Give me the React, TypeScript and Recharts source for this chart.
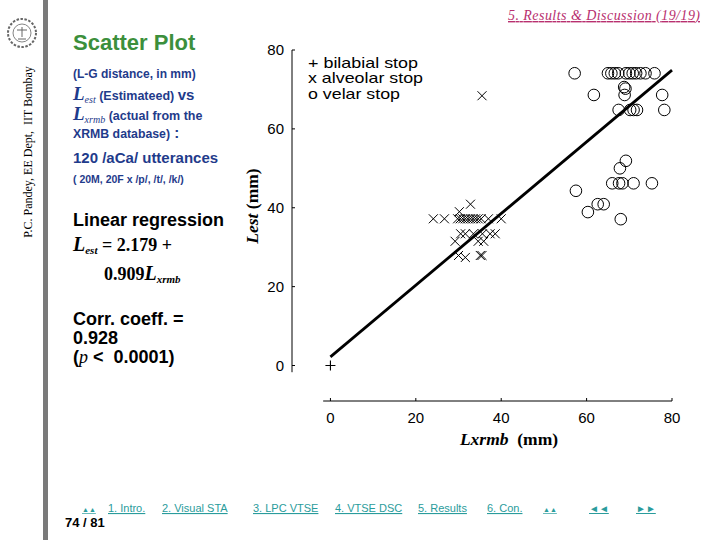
import React from 'react';
import { ScatterChart, Scatter, XAxis, YAxis, ReferenceLine } from 'recharts';

// ---- data ----
const bilabialX = [0];
const bilabialY = [0];

const alveolarX = [
  35.5, 32.8, 30.2,
  24.1, 26.7, 29.8, 30.4, 31.0, 31.6, 32.2, 32.8, 33.4, 34.0, 34.6, 35.3, 37.0, 40.0,
  30.5, 31.6, 33.5, 35.6, 37.4, 38.6,
  29.2, 34.6, 35.9,
  30.0, 31.6, 35.1, 35.5,
];
const alveolarY = [
  68.4, 40.9, 39.0,
  37.2, 37.2, 37.2, 37.2, 37.2, 37.2, 37.2, 37.2, 37.2, 37.2, 37.2, 37.2, 37.2, 37.2,
  33.4, 33.4, 33.4, 33.4, 33.4, 33.4,
  31.5, 31.5, 31.5,
  27.9, 27.4, 27.9, 27.9,
];

const velarX = [
  57.2, 65.0, 65.8, 66.6, 67.4, 69.2, 70.0, 70.8, 71.6, 72.6, 73.8, 75.9,
  68.8, 69.1,
  61.7, 68.9, 77.7,
  67.5, 70.2, 71.0, 71.8, 78.2,
  69.2, 67.8,
  66.0, 67.6, 68.4, 71.0, 75.3,
  57.5,
  60.3, 62.6, 64.0,
  68.0,
];
const velarY = [
  74.1, 74.1, 74.1, 74.1, 74.1, 74.1, 74.1, 74.1, 74.1, 74.1, 74.1, 74.1,
  70.6, 70.2,
  68.6, 68.6, 68.6,
  64.8, 64.8, 64.8, 64.8, 64.8,
  51.9, 50.0,
  46.2, 46.2, 46.2, 46.2, 46.2,
  44.3,
  38.9, 40.9, 40.9,
  37.1,
];

const xTicks = [0, 20, 40, 60, 80];
const yTicks = [0, 20, 40, 60, 80];
const fitIntercept = 2.179;
const fitSlope = 0.909;
const axisMin = -9;
const axisMax = 80;
const axisStart = -1.7;

const legendLabels = ['+ bilabial stop', 'x alveolar stop', 'o velar stop'];
const legendWidths = [110, 115, 92];
const navItems = ['1. Intro.', '2. Visual STA', '3. LPC VTSE', '4. VTSE DSC', '5. Results', '6. Con.'];
const navX = [108, 162, 253, 335, 418, 487];

const SANS = '"Liberation Sans", Arial, Helvetica, sans-serif';
const SERIF = '"Liberation Serif", "Times New Roman", serif';
const NAVY = '#1f3b8b';
const TEAL = '#2a9c9c';

const toPoints = (xs: number[], ys: number[]) => xs.map((x, i) => ({ x, y: ys[i] }));

const PlusShape = (p: any) => (
  <path d={`M${p.cx - 5},${p.cy}H${p.cx + 5}M${p.cx},${p.cy - 5}V${p.cy + 5}`} stroke="#000" strokeWidth={1.1} fill="none" />
);
const CrossShape = (p: any) => (
  <path
    d={`M${p.cx - 4.5},${p.cy - 4.5}L${p.cx + 4.5},${p.cy + 4.5}M${p.cx - 4.5},${p.cy + 4.5}L${p.cx + 4.5},${p.cy - 4.5}`}
    stroke="#000"
    strokeWidth={1}
    fill="none"
  />
);
const CircleShape = (p: any) => <circle cx={p.cx} cy={p.cy} r={5.8} stroke="#000" strokeWidth={1} fill="none" />;

const XTick = (p: any) => (
  <g>
    <line x1={p.x} x2={p.x} y1={p.y - 9} y2={p.y - 12} stroke="#000" />
    <text x={p.x} y={p.y + 13} textAnchor="middle" fontSize={15} fontFamily={SANS} fill="#000">
      {p.payload.value}
    </text>
  </g>
);
const YTick = (p: any) => (
  <g>
    <line x1={p.x + 8} x2={p.x + 11} y1={p.y} y2={p.y} stroke="#000" />
    <text x={p.x} y={p.y + 5} textAnchor="end" fontSize={15} fontFamily={SANS} fill="#000">
      {p.payload.value}
    </text>
  </g>
);

const Slide = () => (
  <svg width={720} height={540} style={{ position: 'absolute', left: 0, top: 0, pointerEvents: 'none' }}>
    {/* side bar + logo */}
    <rect x={43} y={0} width={5} height={540} fill="#7a7a7a" />
    <g stroke="#666" fill="none">
      <circle cx={22} cy={33} r={14} strokeWidth={2} strokeDasharray="2.5 1.5" />
      <circle cx={22} cy={33} r={9} strokeWidth={0.8} />
      <path d="M17,30 h10 M22,27 v10 M18,39 h8" strokeWidth={1} />
    </g>
    <text transform="translate(32,152) rotate(-90)" textAnchor="middle" fontFamily={SERIF} fontSize={12} fill="#000" style={{ whiteSpace: 'pre' }}>
      P.C. Pandey, EE Dept,  IIT Bombay
    </text>

    {/* header */}
    <text x={508} y={20} fontFamily={SERIF} fontStyle="italic" fontSize={14} fill="#b8306f" textDecoration="underline" textLength={192}>
      5. Results &amp; Discussion (19/19)
    </text>

    {/* left column */}
    <text x={73} y={50} fontFamily={SANS} fontWeight="bold" fontSize={22} fill="#3c8f3c">Scatter Plot</text>
    <text x={73} y={78} fontFamily={SANS} fontWeight="bold" fontSize={12} fill={NAVY}>(L-G distance, in mm)</text>
    <text x={73} y={100} fill={NAVY} style={{ whiteSpace: 'pre' }}>
      <tspan fontFamily={SERIF} fontStyle="italic" fontWeight="bold" fontSize={19}>L</tspan>
      <tspan fontFamily={SERIF} fontStyle="italic" fontSize={10} dy={3}>est</tspan>
      <tspan fontFamily={SANS} fontWeight="bold" fontSize={12.5} dy={-3}> (Estimateed) </tspan>
      <tspan fontFamily={SANS} fontWeight="bold" fontSize={15}>vs</tspan>
    </text>
    <text x={73} y={120} fill={NAVY} style={{ whiteSpace: 'pre' }}>
      <tspan fontFamily={SERIF} fontStyle="italic" fontWeight="bold" fontSize={19}>L</tspan>
      <tspan fontFamily={SERIF} fontStyle="italic" fontSize={10} dy={3}>xrmb</tspan>
      <tspan fontFamily={SANS} fontWeight="bold" fontSize={12.5} dy={-3}> (actual from the</tspan>
    </text>
    <text x={73} y={138} fill={NAVY} style={{ whiteSpace: 'pre' }}>
      <tspan fontFamily={SANS} fontWeight="bold" fontSize={12.3}>XRMB database)</tspan>
      <tspan fontFamily={SANS} fontWeight="bold" fontSize={15}> :</tspan>
    </text>
    <text x={73} y={163} fontFamily={SANS} fontWeight="bold" fontSize={15} fill={NAVY}>120 /aCa/ utterances</text>
    <text x={73} y={183} fontFamily={SANS} fontWeight="bold" fontSize={10.5} fill={NAVY}>( 20M, 20F x /p/, /t/, /k/)</text>

    <text x={73} y={226} fontFamily={SANS} fontWeight="bold" fontSize={18} fill="#000">Linear regression</text>
    <text x={73} y={251} fill="#000" fontFamily={SERIF} fontWeight="bold" style={{ whiteSpace: 'pre' }}>
      <tspan fontStyle="italic" fontSize={20}>L</tspan>
      <tspan fontStyle="italic" fontSize={11} dy={3}>est</tspan>
      <tspan fontSize={18} dy={-3}> = 2.179 +</tspan>
    </text>
    <text x={104} y={280} fill="#000" fontFamily={SERIF} fontWeight="bold">
      <tspan fontSize={18}>0.909</tspan>
      <tspan fontStyle="italic" fontSize={20}>L</tspan>
      <tspan fontStyle="italic" fontSize={11} dy={3}>xrmb</tspan>
    </text>
    <text x={73} y={325} fontFamily={SANS} fontWeight="bold" fontSize={18} fill="#000">Corr. coeff. =</text>
    <text x={73} y={344} fontFamily={SANS} fontWeight="bold" fontSize={18} fill="#000">0.928</text>
    <text x={73} y={363} fontFamily={SANS} fontWeight="bold" fontSize={18} fill="#000" style={{ whiteSpace: 'pre' }}>
      (<tspan fontFamily={SERIF} fontStyle="italic" fontWeight="normal">p</tspan> &lt;  0.0001)
    </text>

    {/* legend of the plot */}
    {legendLabels.map((t, i) => (
      <text
        key={t}
        x={308}
        y={67.5 + i * 15.5}
        fontFamily={SANS}
        fontSize={14.5}
        fill="#000"
        textLength={legendWidths[i]}
        lengthAdjust="spacingAndGlyphs"
      >
        {t}
      </text>
    ))}

    {/* axis titles */}
    <text x={509} y={445} textAnchor="middle" fontFamily={SERIF} fontWeight="bold" fontSize={17.5} fill="#000" style={{ whiteSpace: 'pre' }}>
      <tspan fontStyle="italic">Lxrmb</tspan>  (mm)
    </text>
    <text transform="translate(258,206) rotate(-90)" textAnchor="middle" fontFamily={SERIF} fontWeight="bold" fontSize={17.5} fill="#000" style={{ whiteSpace: 'pre' }}>
      <tspan fontStyle="italic">Lest</tspan> (mm)
    </text>

    {/* footer */}
    <text x={82} y={512} fontFamily={SANS} fontSize={7} fill={TEAL} textDecoration="underline">▲▲</text>
    {navItems.map((t, i) => (
      <text key={t} x={navX[i]} y={512} fontFamily={SANS} fontSize={11} fill={TEAL} textDecoration="underline">{t}</text>
    ))}
    <text x={543} y={512} fontFamily={SANS} fontSize={7} fill={TEAL} textDecoration="underline">▲▲</text>
    <text x={589} y={512} fontFamily={SANS} fontSize={10} fill={TEAL} textDecoration="underline">◄◄</text>
    <text x={636} y={512} fontFamily={SANS} fontSize={10} fill={TEAL} textDecoration="underline">►►</text>
    <text x={65} y={527} fontFamily={SANS} fontWeight="bold" fontSize={13} fill="#000">74 / 81</text>
  </svg>
);

export default function App() {
  return (
    <div style={{ position: 'fixed', left: 0, top: 0, width: 720, height: 540, background: '#fff', overflow: 'hidden' }}>
      <div style={{ position: 'absolute', left: 0, top: 0 }}>
        <ScatterChart width={720} height={540} margin={{ top: 50, right: 48, bottom: 79, left: 252 }}>
          <XAxis
            type="number"
            dataKey="x"
            domain={[axisMin, axisMax]}
            ticks={xTicks}
            axisLine={false}
            tickSize={0}
            tickMargin={9}
            tick={(p: any) => <XTick {...p} />}
            height={60}
          />
          <YAxis
            type="number"
            dataKey="y"
            domain={[axisMin, axisMax]}
            ticks={yTicks}
            axisLine={false}
            tickSize={0}
            tickMargin={8}
            tick={(p: any) => <YTick {...p} />}
            width={40}
          />
          <ReferenceLine segment={[{ x: axisMin, y: axisStart }, { x: axisMin, y: axisMax }]} stroke="#000" strokeWidth={1} ifOverflow="visible" />
          <ReferenceLine segment={[{ x: axisStart, y: axisMin }, { x: axisMax, y: axisMin }]} stroke="#000" strokeWidth={1} ifOverflow="visible" />
          <ReferenceLine
            segment={[{ x: 0, y: fitIntercept }, { x: axisMax, y: fitIntercept + fitSlope * axisMax }]}
            stroke="#000"
            strokeWidth={2.8}
            ifOverflow="visible"
          />
          <Scatter data={toPoints(bilabialX, bilabialY)} shape={PlusShape} isAnimationActive={false} />
          <Scatter data={toPoints(alveolarX, alveolarY)} shape={CrossShape} isAnimationActive={false} />
          <Scatter data={toPoints(velarX, velarY)} shape={CircleShape} isAnimationActive={false} />
        </ScatterChart>
      </div>
      <Slide />
    </div>
  );
}
